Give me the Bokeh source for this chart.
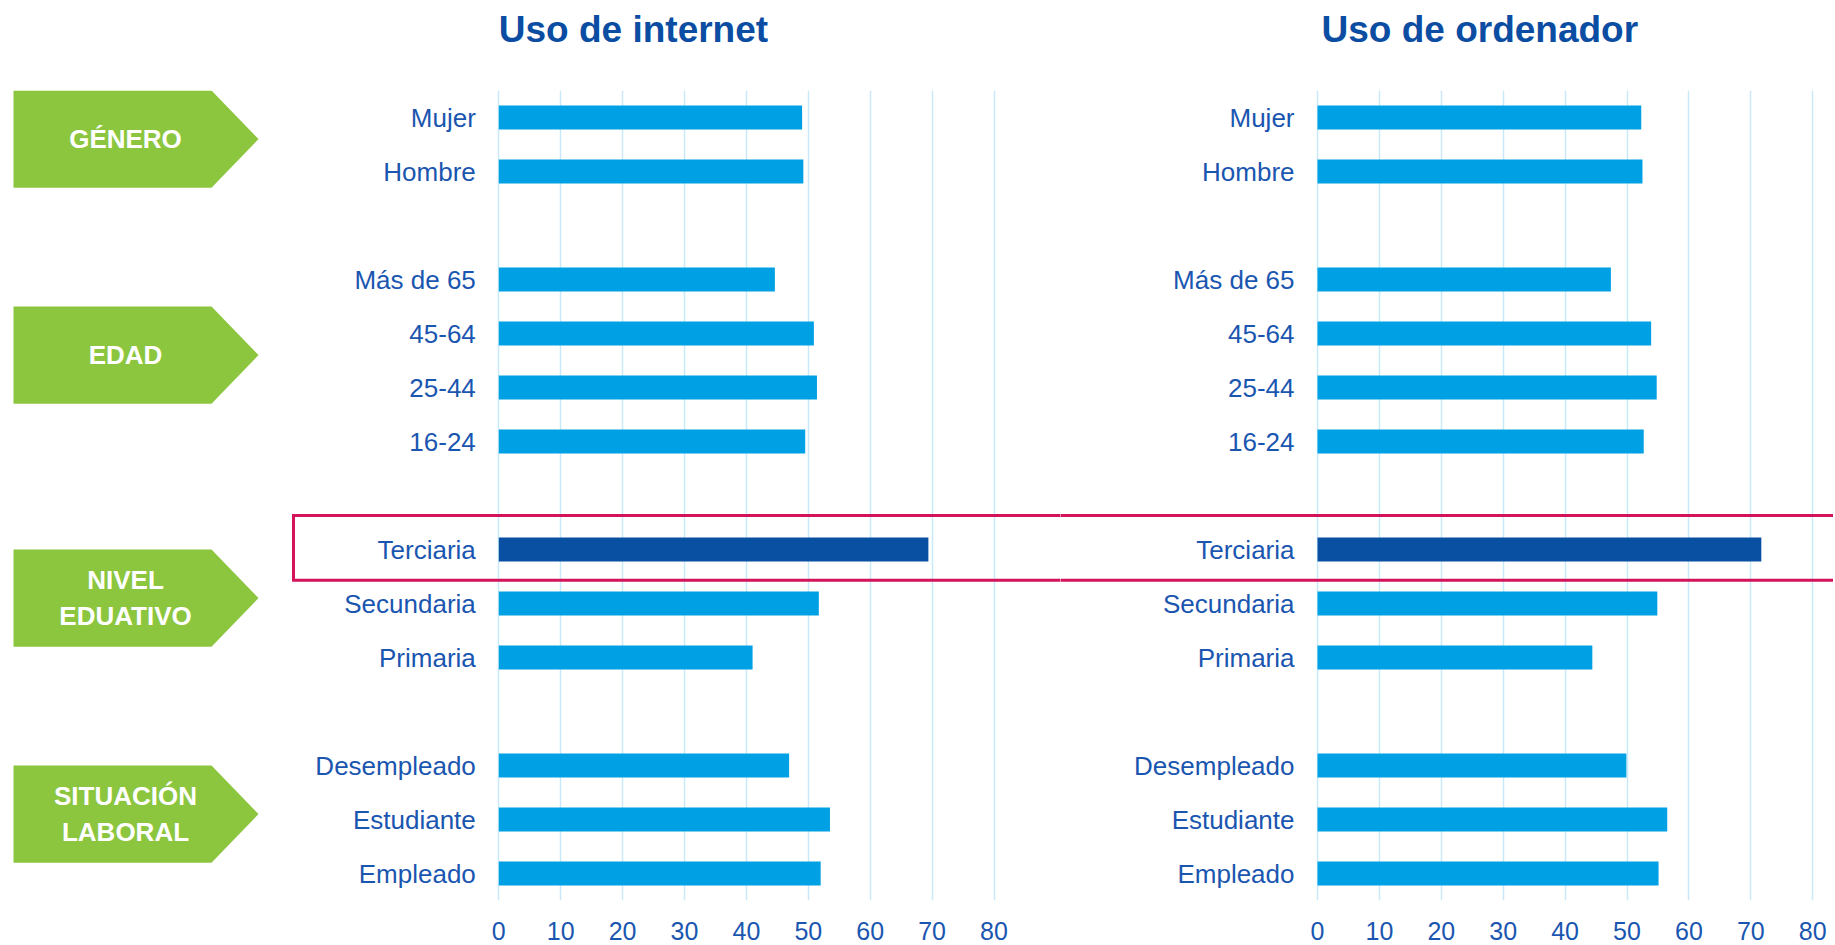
from bokeh.plotting import figure
from bokeh.models import FactorRange, Range1d, FixedTicker
from bokeh.layouts import row, column
from bokeh.embed import file_html
from bokeh.resources import INLINE
from bokeh.core.properties import value

# ---------------- data ----------------
group_keys = ["GÉNERO", "EDAD", "NIVEL EDUATIVO", "SITUACIÓN LABORAL"]
group_labels = ["GÉNERO", "EDAD", "NIVEL\nEDUATIVO", "SITUACIÓN\nLABORAL"]
genero = ["Mujer", "Hombre"]
edad = ["Más de 65", "45-64", "25-44", "16-24"]
nivel = ["Terciaria", "Secundaria", "Primaria"]
situacion = ["Desempleado", "Estudiante", "Empleado"]
members = [genero, edad, nivel, situacion]

# values listed top-to-bottom as in the chart
internet = [49.0, 49.2, 44.6, 50.9, 51.4, 49.5, 69.4, 51.7, 41.0, 46.9, 53.5, 52.0]
ordenador = [52.3, 52.5, 47.4, 53.9, 54.8, 52.7, 71.7, 54.9, 44.4, 49.9, 56.5, 55.1]
highlight = "Terciaria"
x_ticks = [0, 10, 20, 30, 40, 50, 60, 70, 80]
titles = ["Uso de internet", "Uso de ordenador"]

# ---------------- styles ----------------
FONT = "Liberation Sans"
BAR = "#00A0E4"
BAR_HI = "#0A50A2"
LABEL = "#1A56B0"
TITLE = "#0B4DA2"
GREEN = "#8CC63F"
RED = "#D4145A"
GRID = "#C8E9F8"

# top-to-bottom flattened (group, category)
rows_tb = [(g, c) for g, cs in zip(group_keys, members) for c in cs]
# bokeh factors go bottom-to-top
factors = list(reversed(rows_tb))

GROUP_PAD = 1.0
# synthetic coordinates as computed by FactorRange (factor_padding=0)
syn = {}
off = 0.0
groups_bt = list(reversed(group_keys))
for i, g in enumerate(groups_bt):
    if i > 0:
        off += GROUP_PAD
    for (gg, c) in factors:
        if gg == g:
            syn[(gg, c)] = off + 0.5
            off += 1.0
group_center = {g: sum(syn[(g, c)] for c in cs) / len(cs) for g, cs in zip(group_keys, members)}

PX = 6.19          # pixels per data unit
W1, W2 = 1060, 773
TH, H = 90, 853    # title strip height, chart height
ZERO1, ZERO2 = 498.3, 257.0   # px from frame left to the value 0


def make_title(text, width, xr, dx):
    t = figure(width=width, height=TH, x_range=xr, y_range=Range1d(0, TH),
               x_axis_location=None, y_axis_location=None,
               output_backend="svg", toolbar_location=None,
               min_border_left=0, min_border_right=0, min_border_top=0, min_border_bottom=0,
               outline_line_color=None, background_fill_color="white", border_fill_color="white")
    t.xgrid.visible = False
    t.ygrid.visible = False
    t.text(x=[0], y=[TH - 29], text=[text], x_offset=dx, text_align="left",
           text_baseline="alphabetic", text_font=value(FONT), text_font_size=value("37px"),
           text_font_style="bold", text_color=TITLE)
    return t


def make_fig(vals, width, zero, left_panel):
    xr = Range1d(-zero / PX, (width - zero) / PX)
    yr = FactorRange(factors=factors, factor_padding=0, group_padding=GROUP_PAD, range_padding=0)
    p = figure(width=width, height=H, x_range=xr, y_range=yr, y_axis_location=None,
               output_backend="svg", toolbar_location=None,
               min_border_left=0, min_border_right=0, min_border_top=0, min_border_bottom=43,
               outline_line_color=None, background_fill_color="white", border_fill_color="white")

    ticker = FixedTicker(ticks=x_ticks)
    p.xaxis.ticker = ticker
    p.xaxis.axis_line_color = None
    p.xaxis.major_tick_line_color = None
    p.xaxis.minor_tick_line_color = None
    p.xaxis.major_label_standoff = 15
    p.xaxis.major_label_text_font = FONT
    p.xaxis.major_label_text_font_size = "25px"
    p.xaxis.major_label_text_color = LABEL
    p.xgrid.ticker = ticker
    p.xgrid.grid_line_color = GRID
    p.xgrid.grid_line_width = 1.5
    p.ygrid.visible = False

    ys = rows_tb
    colors = [BAR_HI if c == highlight else BAR for (_, c) in ys]
    p.hbar(y=ys, left=0, right=list(vals), height=0.44, fill_color=colors, line_color=None)
    p.text(x=[0] * len(ys), y=ys, text=[c for (_, c) in ys], x_offset=-23,
           text_align="right", text_baseline="middle", text_font=value(FONT),
           text_font_size=value("26px"), text_color=LABEL)

    # highlight box around "Terciaria"
    tc = syn[("NIVEL EDUATIVO", highlight)]
    top, bot = tc + 0.63, tc - 0.57
    ext = 5
    if left_panel:
        xl = (293 - zero) / PX
        p.line(x=[xr.end + ext, xl, xl, xr.end + ext], y=[top, top, bot, bot], line_color=RED,
               line_width=3, line_join="miter")
        # green arrow labels
        x0, x1, xt = (13 - zero) / PX, (211 - zero) / PX, (258 - zero) / PX
        xs, yss, tx, ty = [], [], [], []
        for g in group_keys:
            yc = group_center[g] + 0.1
            h = 0.9
            xs.append([x0, x1, xt, x1, x0])
            yss.append([yc - h, yc - h, yc, yc + h, yc + h])
            tx.append((125 - zero) / PX)
            ty.append(yc)
        p.patches(xs=xs, ys=yss, fill_color=GREEN, line_color=None)
        p.text(x=tx, y=ty, text=group_labels, text_align="center", text_baseline="middle",
               text_font=value(FONT), text_font_size=value("26px"), text_font_style="bold",
               text_color="white", text_line_height=1.2)
    else:
        p.multi_line(xs=[[xr.start - ext, xr.end + ext], [xr.start - ext, xr.end + ext]],
                     ys=[[top, top], [bot, bot]], line_color=RED, line_width=3)
    return p, xr


p1, xr1 = make_fig(internet, W1, ZERO1, True)
p2, xr2 = make_fig(ordenador, W2, ZERO2, False)
t1 = make_title(titles[0], W1, xr1, 0)
t2 = make_title(titles[1], W2, xr2, 4)
layout = column(row(t1, t2, spacing=0), row(p1, p2, spacing=0), spacing=0)

open("out.html", "w").write(file_html(layout, INLINE))
